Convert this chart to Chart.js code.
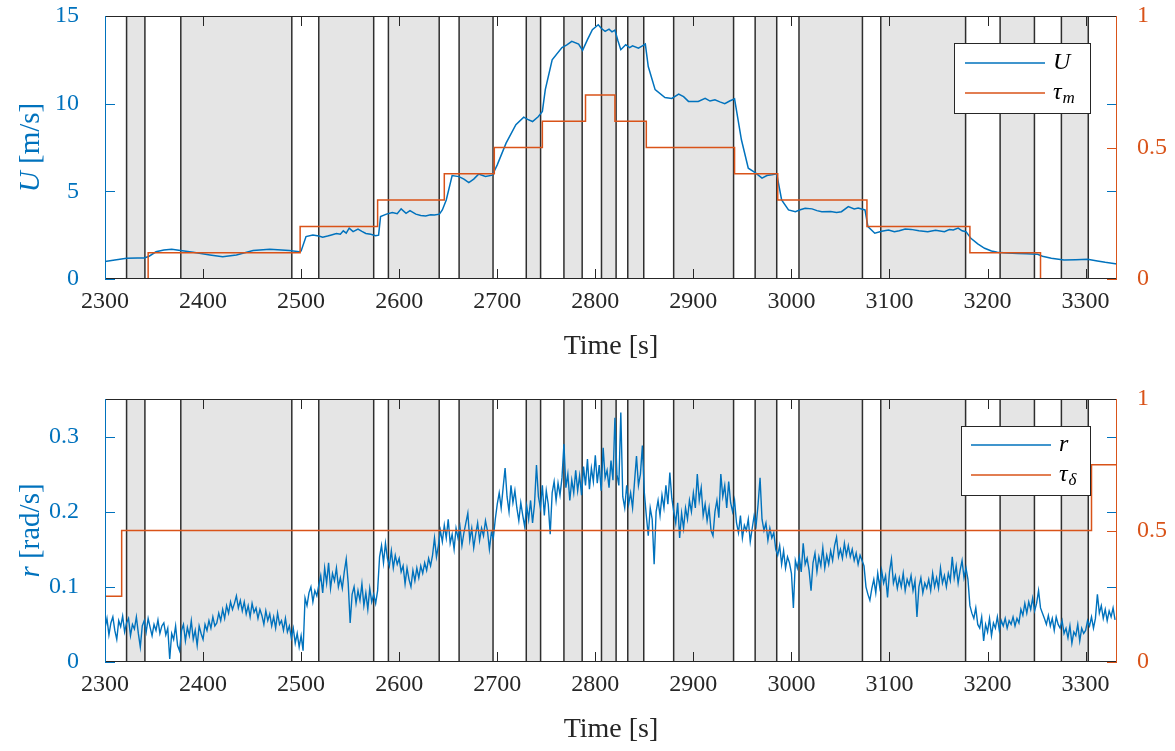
<!DOCTYPE html>
<html><head><meta charset="utf-8">
<script src="https://cdn.jsdelivr.net/npm/chart.js@4.4.0/dist/chart.umd.min.js"></script>
<style>
html,body{margin:0;padding:0;background:#fff;}
#wrap{position:relative;width:1175px;height:751px;overflow:hidden;}
canvas{position:absolute;left:0;}
#c1{top:0;}
#c2{top:383px;}
</style></head><body>
<div id="wrap"><canvas id="c1" width="1175" height="375"></canvas><canvas id="c2" width="1175" height="368"></canvas></div>
<script>
// ---------------- data ----------------
const xTicks = [2300,2400,2500,2600,2700,2800,2900,3000,3100,3200,3300];
const uTicks = [0,5,10,15];
const tauTicks = [0,0.5,1];
const rTicks = [0,0.1,0.2,0.3];
const xRange = [2300, 3332];

// boundaries of the test segments (shaded / unshaded alternate, first one unshaded)
const segmentEdges = [2322,2340.7,2377.3,2490.5,2518,2574,2589,2640.8,2661.1,2695.7,2729.6,2744.2,2768,2786.6,2806.3,2821.2,2833.1,2849.4,2879.9,2941,2963,2985,3007.7,3072.4,3091.1,3177.6,3212.8,3247.8,3275.3,3302.7];

// surge speed U [m/s]
const uTime = [2300,2310,2322,2333,2340,2345,2352,2360,2368,2377,2390,2407,2420,2434,2451,2468,2480,2488,2498,2500,2505,2512,2518,2522,2527,2530,2536,2540,2543,2546,2549,2553,2558,2562,2566,2571,2576,2579,2581,2587,2593,2598,2602,2607,2611,2614,2617,2622,2627,2632,2636,2641,2644,2648,2654,2661,2666,2671,2676,2681,2688,2695,2700,2709,2719,2727,2731,2736,2742,2746,2749,2756,2766,2771,2776,2783,2787,2792,2797,2803,2806,2810,2814,2817,2820,2823,2826,2831,2835,2838,2844,2848,2851,2854,2861,2871,2878,2885,2890,2895,2905,2912,2917,2922,2927,2932,2937,2942,2949,2956,2963,2970,2975,2980,2985,2990,2997,3004,3009,3014,3021,3026,3031,3040,3046,3051,3058,3064,3068,3075,3078,3085,3092,3099,3105,3110,3116,3122,3130,3139,3147,3156,3161,3165,3170,3174,3178,3183,3190,3197,3204,3210,3220,3231,3240,3251,3256,3265,3278,3290,3302,3312,3320,3332];
const uValue = [1.0,1.08,1.18,1.2,1.2,1.3,1.55,1.65,1.7,1.62,1.52,1.37,1.27,1.37,1.62,1.7,1.65,1.62,1.56,1.6,2.42,2.51,2.45,2.38,2.45,2.5,2.6,2.55,2.75,2.62,2.9,2.7,2.85,2.72,2.6,2.55,2.47,2.5,3.56,3.7,3.79,3.72,4.0,3.75,3.9,3.8,3.7,3.62,3.6,3.66,3.65,3.7,3.94,4.51,5.9,5.84,5.7,5.5,5.7,5.98,5.85,5.92,6.51,7.75,8.8,9.23,9.1,8.98,9.27,9.56,10.8,12.5,13.2,13.35,13.55,13.4,13.04,13.65,14.22,14.5,14.3,14.12,14.25,14.1,14.2,13.6,13.08,13.36,13.2,13.3,13.17,13.3,13.4,12.12,10.8,10.35,10.3,10.55,10.4,10.13,10.13,10.3,10.15,10.22,10.1,10.0,10.15,10.28,7.94,6.32,6.07,5.75,5.9,5.94,6.0,4.51,3.94,3.84,3.95,4.04,4.0,3.9,3.84,3.85,3.8,3.84,4.13,4.0,4.05,3.94,2.99,2.61,2.72,2.8,2.7,2.75,2.85,2.83,2.75,2.7,2.78,2.7,2.82,2.8,2.9,2.75,2.7,2.32,2.0,1.75,1.6,1.52,1.48,1.45,1.44,1.41,1.3,1.18,1.08,1.1,1.12,1.03,0.95,0.86];

// tau_m steps (value holds from its time until the next time)
const tauMTime  = [2300,2344,2499,2578,2646,2697,2746,2790,2820,2852,2942,2986,3077,3182,3254,3332];
const tauMValue = [0,0.1,0.2,0.3,0.4,0.5,0.6,0.7,0.6,0.5,0.4,0.3,0.2,0.1,0,0];

// yaw rate r [rad/s], sampled every rStep seconds from rStart
const rStart = 2300, rStep = 2;
const rValue = [
0.045,0.058,0.036,0.052,0.06,0.042,0.03,0.055,0.047,0.061,
0.04,0.052,0.058,0.035,0.05,0.044,0.06,0.038,0.02,0.048,
0.055,0.04,0.058,0.046,0.035,0.05,0.042,0.056,0.038,0.048,
0.052,0.036,0.045,0.004,0.038,0.03,0.048,0.022,0.015,0.042,
0.05,0.028,0.046,0.035,0.055,0.03,0.042,0.022,0.048,0.038,
0.03,0.05,0.042,0.055,0.045,0.06,0.048,0.052,0.065,0.055,
0.07,0.058,0.075,0.065,0.08,0.07,0.078,0.088,0.072,0.082,
0.068,0.08,0.064,0.075,0.06,0.078,0.066,0.072,0.058,0.07,
0.062,0.05,0.068,0.055,0.064,0.048,0.06,0.045,0.065,0.05,
0.055,0.042,0.058,0.04,0.048,0.032,0.045,0.025,0.038,0.02,
0.035,0.015,0.085,0.075,0.092,0.1,0.08,0.095,0.088,0.102,
0.115,0.092,0.125,0.105,0.132,0.098,0.118,0.108,0.125,0.1,
0.112,0.098,0.12,0.137,0.105,0.052,0.09,0.1,0.078,0.095,
0.082,0.104,0.075,0.092,0.07,0.098,0.08,0.09,0.078,0.095,
0.14,0.155,0.132,0.158,0.138,0.128,0.148,0.125,0.142,0.13,
0.138,0.12,0.128,0.104,0.125,0.11,0.1,0.122,0.108,0.125,
0.112,0.128,0.118,0.132,0.122,0.138,0.128,0.142,0.165,0.14,
0.155,0.175,0.16,0.182,0.165,0.19,0.158,0.17,0.15,0.178,
0.165,0.18,0.155,0.172,0.185,0.198,0.162,0.178,0.152,0.17,
0.185,0.162,0.178,0.168,0.188,0.175,0.15,0.172,0.165,0.19,
0.21,0.225,0.205,0.232,0.258,0.22,0.2,0.235,0.212,0.228,
0.205,0.188,0.212,0.195,0.18,0.208,0.19,0.215,0.185,0.21,
0.262,0.22,0.205,0.235,0.195,0.228,0.21,0.17,0.225,0.24,
0.215,0.238,0.222,0.245,0.29,0.232,0.25,0.215,0.242,0.225,
0.255,0.228,0.248,0.222,0.26,0.235,0.27,0.23,0.258,0.24,
0.275,0.238,0.262,0.228,0.285,0.245,0.255,0.232,0.268,0.242,
0.325,0.25,0.235,0.332,0.22,0.205,0.235,0.21,0.225,0.205,
0.24,0.274,0.235,0.25,0.288,0.225,0.195,0.168,0.205,0.19,
0.13,0.2,0.215,0.195,0.222,0.205,0.235,0.21,0.252,0.218,
0.2,0.185,0.212,0.165,0.198,0.178,0.205,0.19,0.215,0.2,
0.225,0.205,0.25,0.215,0.232,0.195,0.21,0.188,0.205,0.175,
0.168,0.2,0.215,0.192,0.25,0.22,0.235,0.205,0.24,0.212,
0.2,0.215,0.185,0.172,0.195,0.165,0.182,0.175,0.19,0.16,
0.178,0.195,0.182,0.21,0.245,0.19,0.175,0.185,0.162,0.178,
0.165,0.172,0.15,0.142,0.155,0.13,0.148,0.125,0.14,0.132,
0.118,0.072,0.135,0.125,0.14,0.12,0.158,0.13,0.138,0.122,
0.095,0.132,0.145,0.12,0.14,0.128,0.152,0.125,0.142,0.13,
0.148,0.135,0.155,0.166,0.14,0.15,0.138,0.158,0.142,0.155,
0.14,0.15,0.135,0.145,0.13,0.142,0.135,0.128,0.1,0.09,
0.082,0.098,0.11,0.092,0.118,0.1,0.122,0.105,0.115,0.086,
0.12,0.137,0.105,0.115,0.098,0.112,0.1,0.118,0.095,0.11,
0.102,0.115,0.095,0.108,0.06,0.1,0.112,0.092,0.105,0.098,
0.11,0.095,0.118,0.1,0.112,0.098,0.125,0.105,0.115,0.1,
0.118,0.108,0.14,0.112,0.128,0.105,0.122,0.135,0.112,0.125,
0.11,0.075,0.065,0.058,0.072,0.05,0.045,0.06,0.028,0.05,
0.04,0.058,0.035,0.052,0.045,0.06,0.042,0.055,0.048,0.058,
0.045,0.055,0.05,0.06,0.048,0.058,0.052,0.07,0.062,0.078,
0.065,0.08,0.07,0.085,0.068,0.078,0.095,0.072,0.065,0.058,
0.05,0.062,0.048,0.058,0.042,0.06,0.05,0.045,0.055,0.038,
0.045,0.032,0.048,0.025,0.04,0.035,0.05,0.028,0.045,0.038,
0.042,0.055,0.048,0.06,0.045,0.058,0.09,0.065,0.075,0.058,
0.07,0.055,0.068,0.06,0.072,0.056];

// tau_delta steps
const tauDTime  = [2300,2317,3306,3332];
const tauDValue = [0.25,0.5,0.75,0.75];

// ---------------- styling ----------------
const BLUE = '#0072BD', ORANGE = '#D95319', AX = '#262626', GRAY = '#e5e5e5', EDGE = '#2e2e2e';
const SERIF = "'Liberation Serif', 'DejaVu Serif', serif";

function pairs(xs, ys) { return xs.map((x, i) => ({x: x, y: ys[i]})); }
function fmt(v) { return String(Math.round(v * 10) / 10); }

function decoPlugin(opt) {
  return {
    id: 'deco',
    beforeDatasetsDraw(chart) {
      const ctx = chart.ctx, a = chart.chartArea, xs = chart.scales.x;
      ctx.save();
      ctx.beginPath(); ctx.rect(a.left, a.top, a.right - a.left, a.bottom - a.top); ctx.clip();
      const edges = [xs.min].concat(segmentEdges, [xs.max]);
      ctx.fillStyle = GRAY;
      for (let i = 1; i < edges.length - 1; i += 2) {
        const x0 = xs.getPixelForValue(edges[i]), x1 = xs.getPixelForValue(edges[i + 1]);
        ctx.fillRect(x0, a.top, x1 - x0, a.bottom - a.top);
      }
      ctx.strokeStyle = EDGE; ctx.lineWidth = 1.5;
      segmentEdges.forEach(e => {
        const x = xs.getPixelForValue(e);
        ctx.beginPath(); ctx.moveTo(x, a.top); ctx.lineTo(x, a.bottom); ctx.stroke();
      });
      ctx.restore();
    },
    afterDatasetsDraw(chart) {
      const ctx = chart.ctx, a = chart.chartArea;
      const xs = chart.scales.x, yl = chart.scales.yL, yr = chart.scales.yR;
      const T = 10;
      ctx.save();
      ctx.lineWidth = 1;
      const line = (x0, y0, x1, y1) => { ctx.beginPath(); ctx.moveTo(x0, y0); ctx.lineTo(x1, y1); ctx.stroke(); };
      ctx.strokeStyle = AX;
      xs.ticks.forEach(t => {
        const x = Math.round(xs.getPixelForValue(t.value)) + 0.5;
        line(x, a.bottom, x, a.bottom - T); line(x, a.top, x, a.top + T);
      });
      ctx.strokeStyle = BLUE;
      yl.ticks.forEach(t => {
        const y = Math.round(yl.getPixelForValue(t.value)) + 0.5;
        line(a.left, y, a.left + T, y); line(a.right - T, y, a.right, y);
      });
      ctx.strokeStyle = ORANGE;
      yr.ticks.forEach(t => {
        const y = Math.round(yr.getPixelForValue(t.value)) + 0.5;
        line(a.right - T, y, a.right, y);
      });
      // box
      ctx.strokeStyle = AX;
      line(a.left, Math.round(a.top) + 0.5, a.right, Math.round(a.top) + 0.5);
      line(a.left, Math.round(a.bottom) - 0.5, a.right, Math.round(a.bottom) - 0.5);
      ctx.strokeStyle = BLUE; line(Math.round(a.left) + 0.5, a.top, Math.round(a.left) + 0.5, a.bottom);
      ctx.strokeStyle = ORANGE; line(Math.round(a.right) - 0.5, a.top, Math.round(a.right) - 0.5, a.bottom);

      // legend
      const L = opt.legend;
      const lx = a.right - L.right - L.w, ly = a.top + L.top;
      ctx.fillStyle = '#fff'; ctx.fillRect(lx, ly, L.w, L.h);
      ctx.strokeStyle = AX; ctx.lineWidth = 1;
      ctx.strokeRect(Math.round(lx) + 0.5, Math.round(ly) + 0.5, L.w, L.h);
      L.items.forEach((it, k) => {
        const yy = ly + L.rowY[k];
        ctx.strokeStyle = it.color; ctx.lineWidth = 1.5;
        line(lx + L.lineX0, yy, lx + L.lineX1, yy);
        ctx.fillStyle = '#000'; ctx.textBaseline = 'middle'; ctx.textAlign = 'left';
        ctx.font = 'italic 24px ' + SERIF;
        ctx.fillText(it.main, lx + L.textX, yy);
        if (it.sub) {
          const w = ctx.measureText(it.main).width;
          ctx.font = 'italic 17px ' + SERIF;
          ctx.fillText(it.sub, lx + L.textX + w + 1, yy + 6);
        }
      });

      // x title
      ctx.fillStyle = AX; ctx.textAlign = 'center'; ctx.textBaseline = 'middle';
      ctx.font = '28px ' + SERIF;
      ctx.fillText('Time [s]', (a.left + a.right) / 2, a.bottom + 68);

      // y title (rotated, mixed italic)
      ctx.save();
      ctx.translate(31, (a.top + a.bottom) / 2);
      ctx.rotate(-Math.PI / 2);
      ctx.fillStyle = BLUE; ctx.textAlign = 'left'; ctx.textBaseline = 'middle';
      let total = 0;
      opt.ytitle.forEach(p => { ctx.font = (p.it ? 'italic ' : '') + '29px ' + SERIF; total += ctx.measureText(p.t).width; });
      let x = -total / 2;
      opt.ytitle.forEach(p => { ctx.font = (p.it ? 'italic ' : '') + '29px ' + SERIF; ctx.fillText(p.t, x, 0); x += ctx.measureText(p.t).width; });
      ctx.restore();
      ctx.restore();
    }
  };
}

function makeChart(id, canvasH, left, right, leftTicks, rightTicks, datasets, opt) {
  const tickFont = {family: SERIF, size: 24};
  return new Chart(document.getElementById(id), {
    type: 'line',
    data: {datasets: datasets},
    options: {
      responsive: false, animation: false, devicePixelRatio: 1,
      layout: {padding: {top: 16, left: 0, right: 0, bottom: 0}},
      plugins: {legend: {display: false}, tooltip: {enabled: false}},
      elements: {point: {radius: 0}, line: {tension: 0}},
      scales: {
        x: {type: 'linear', position: 'bottom', min: xRange[0], max: xRange[1],
            grid: {display: false}, border: {display: false},
            afterBuildTicks: s => { s.ticks = xTicks.map(v => ({value: v})); },
            afterFit: s => { s.height = canvasH - 279; s.paddingLeft = 0; s.paddingRight = 0; },
            ticks: {font: tickFont, color: AX, padding: 0, maxRotation: 0, autoSkip: false, callback: v => String(v)}},
        yL: {type: 'linear', position: 'left', min: left[0], max: left[1],
            grid: {display: false}, border: {display: false},
            afterBuildTicks: s => { s.ticks = leftTicks.map(v => ({value: v})); },
            afterFit: s => { s.width = 105; s.paddingTop = 0; s.paddingBottom = 0; },
            ticks: {font: tickFont, color: BLUE, padding: 18, autoSkip: false, callback: v => fmt(v)}},
        yR: {type: 'linear', position: 'right', min: right[0], max: right[1],
            grid: {display: false}, border: {display: false},
            afterBuildTicks: s => { s.ticks = rightTicks.map(v => ({value: v})); },
            afterFit: s => { s.width = 58; s.paddingTop = 0; s.paddingBottom = 0; },
            ticks: {font: tickFont, color: ORANGE, padding: 12, autoSkip: false, callback: v => fmt(v)}}
      }
    },
    plugins: [decoPlugin(opt)]
  });
}

makeChart('c1', 375, [0, 15], [0, 1], uTicks, tauTicks, [
  {label: 'U', data: pairs(uTime, uValue), yAxisID: 'yL', borderColor: BLUE, borderWidth: 1.5, pointRadius: 0, order: 1},
  {label: 'tau_m', data: pairs(tauMTime, tauMValue), yAxisID: 'yR', borderColor: ORANGE, borderWidth: 1.5, pointRadius: 0, stepped: 'before', order: 0}
], {
  legend: {right: 27, top: 27, w: 136, h: 70, rowY: [20, 50], lineX0: 11, lineX1: 91, textX: 99,
           items: [{color: BLUE, main: 'U'}, {color: ORANGE, main: 'τ', sub: 'm'}]},
  ytitle: [{t: 'U', it: true}, {t: ' [m/s]', it: false}]
});

makeChart('c2', 368, [0, 0.35], [0, 1], rTicks, tauTicks, [
  {label: 'r', data: rValue.map((v, i) => ({x: rStart + i * rStep, y: v})), yAxisID: 'yL', borderColor: BLUE, borderWidth: 1.4, pointRadius: 0, order: 1},
  {label: 'tau_delta', data: pairs(tauDTime, tauDValue), yAxisID: 'yR', borderColor: ORANGE, borderWidth: 1.5, pointRadius: 0, stepped: 'before', order: 0}
], {
  legend: {right: 27, top: 27, w: 129, h: 69, rowY: [19, 49], lineX0: 10, lineX1: 90, textX: 98,
           items: [{color: BLUE, main: 'r'}, {color: ORANGE, main: 'τ', sub: 'δ'}]},
  ytitle: [{t: 'r', it: true}, {t: ' [rad/s]', it: false}]
});
</script>
</body></html>
